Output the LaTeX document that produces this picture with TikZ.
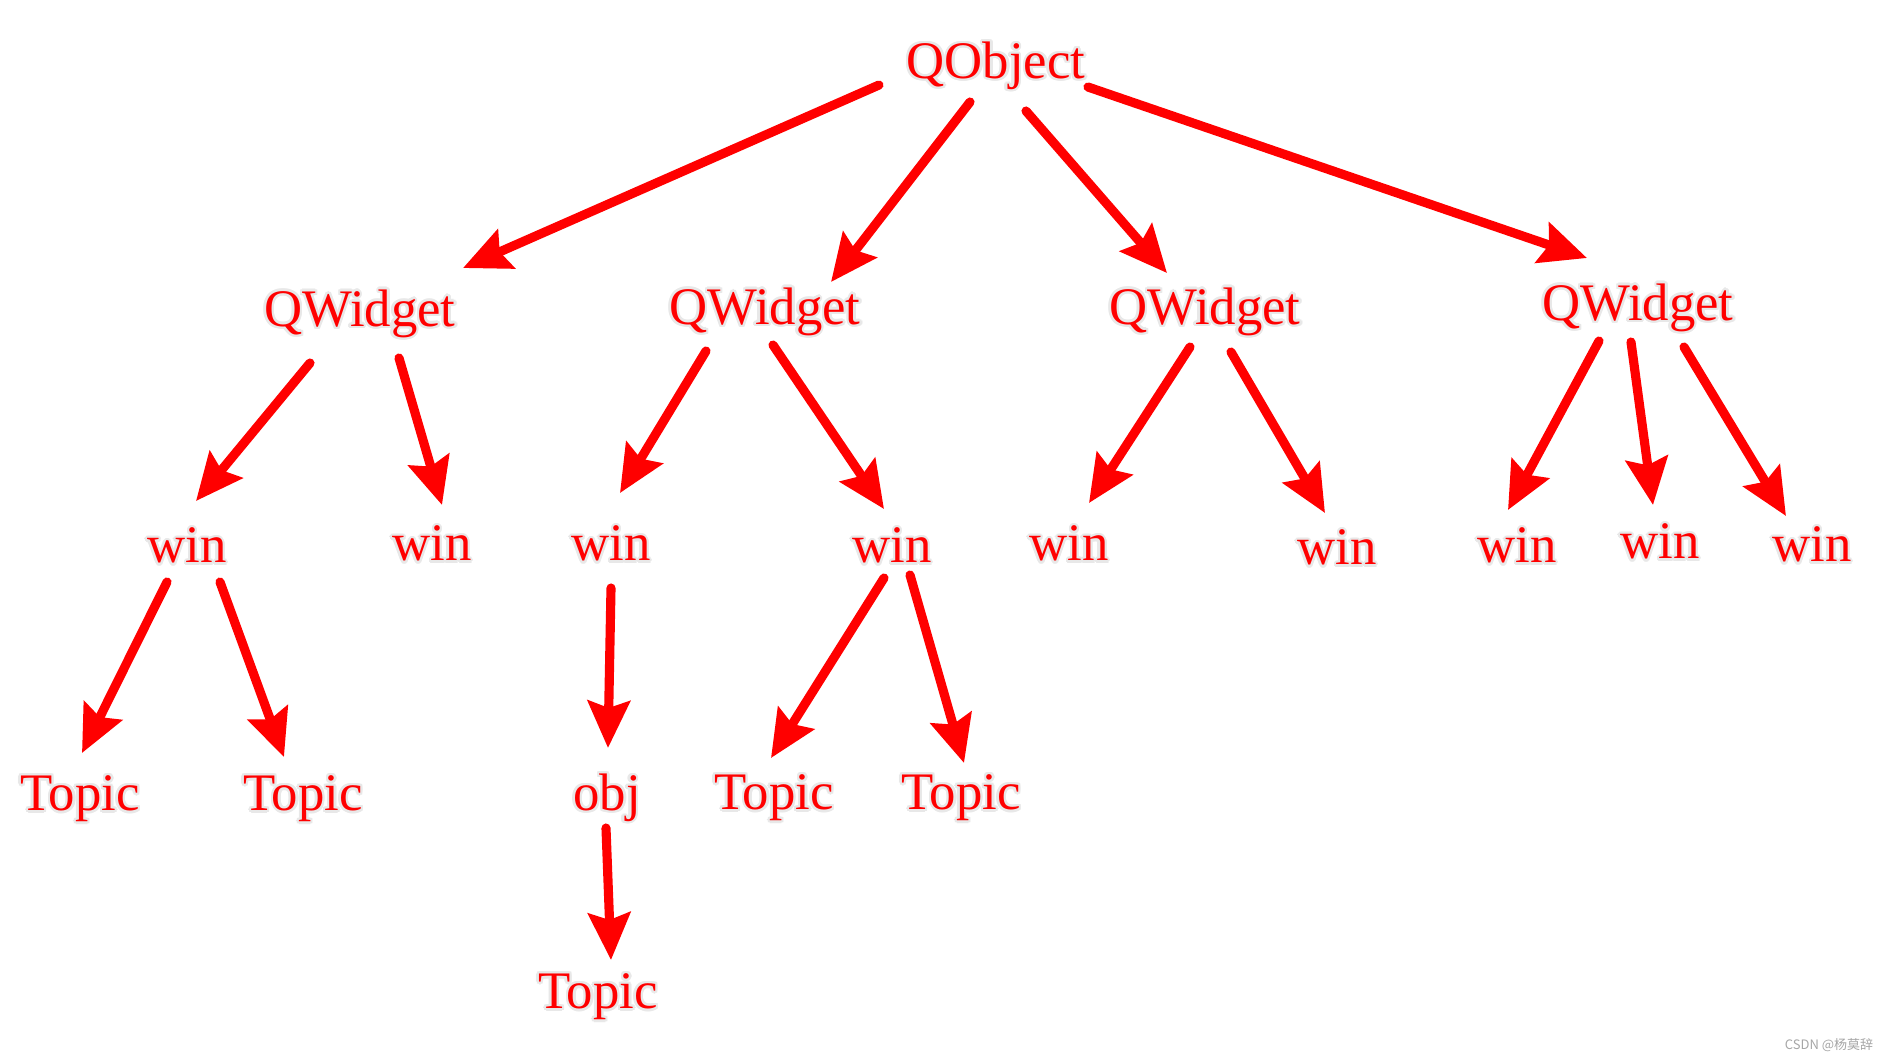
\documentclass[tikz,border=0pt]{standalone}
\usepackage{fontspec}
\setmainfont{Liberation Serif}
\newfontfamily\cjkfont{Noto Sans CJK SC}
\usepackage{contour}
\usepackage{tikz}
\usetikzlibrary{arrows.meta}
\contourlength{0.7pt}
\newcommand{\glow}[1]{\contour{gray!18}{#1}}
\definecolor{treered}{HTML}{FF0000}

\begin{document}
\begin{tikzpicture}[
  x=0.01cm, y=-0.01cm,
  lbl/.style={text=treered, inner sep=1pt, yshift=-0.07cm,
    font=\fontsize{15}{18}\selectfont},
  arr/.style={draw=treered, line width=2.6pt, line cap=round,
    -{Stealth[length=0.47cm, width=0.42cm, inset=0.07cm]}}]

  \useasboundingbox (0,0) rectangle (1896,1063);

  % root and first level
  \node[lbl] (qobj) at (996,60)  {\glow{QObject}};
  \node[lbl] (qw1)  at (360,308) {\glow{QWidget}};
  \node[lbl] (qw2)  at (765,306) {\glow{QWidget}};
  \node[lbl] (qw3)  at (1205,306) {\glow{QWidget}};
  \node[lbl] (qw4)  at (1638,302) {\glow{QWidget}};

  % windows
  \node[lbl] (win1) at (187,540)  {\glow{win}};
  \node[lbl] (win2) at (432,538)  {\glow{win}};
  \node[lbl] (win3) at (611,538)  {\glow{win}};
  \node[lbl] (win4) at (892,540)  {\glow{win}};
  \node[lbl] (win5) at (1069,538) {\glow{win}};
  \node[lbl] (win6) at (1337,542) {\glow{win}};
  \node[lbl] (win7) at (1517,540) {\glow{win}};
  \node[lbl] (win8) at (1660,536) {\glow{win}};
  \node[lbl] (win9) at (1812,539) {\glow{win}};

  % leaves
  \node[lbl] (top1) at (80,793)  {\glow{Topic}};
  \node[lbl] (top2) at (303,793) {\glow{Topic}};
  \node[lbl] (obj)  at (607,792) {\glow{obj}};
  \node[lbl] (top3) at (774,792) {\glow{Topic}};
  \node[lbl] (top4) at (961,792) {\glow{Topic}};
  \node[lbl] (top5) at (598,991) {\glow{Topic}};

  % offsets are taken from the unshifted label centres
  \foreach \a/\sx/\sy/\b/\ex/\ey in {
    qobj/-117/25/qw1/103/-40,
    qobj/-26/42/qw2/66/-24,
    qobj/30/51/qw3/-38/-33,
    qobj/92/27/qw4/-51/-44,
    qw1/-50/55/win1/9/-39,
    qw1/39/50/win2/10/-33,
    qw2/-59/45/win3/9/-45,
    qw2/8/39/win4/-8/-31,
    qw3/-15/41/win5/20/-35,
    qw3/26/46/win6/-12/-29,
    qw4/-39/39/win7/-9/-30,
    qw4/-7/40/win8/-7/-31,
    qw4/46/45/win9/-26/-23,
    win1/-20/42/top1/2/-40,
    win1/33/42/top2/-19/-36,
    win3/0/50/obj/1/-44,
    win4/-8/38/top3/-3/-34,
    win4/18/35/top4/3/-29,
    obj/-1/36/top5/13/-31
  }
    \draw[arr] ([shift={(\sx,\sy-7)}]\a.center)
      -- ([shift={(\ex,\ey-7)}]\b.center);

  \node[text=gray!70, inner sep=0pt, font=\cjkfont\fontsize{3.7}{4.5}\selectfont]
    (mark) at (1829,1045) {CSDN @杨莫辞};

\end{tikzpicture}
\end{document}
